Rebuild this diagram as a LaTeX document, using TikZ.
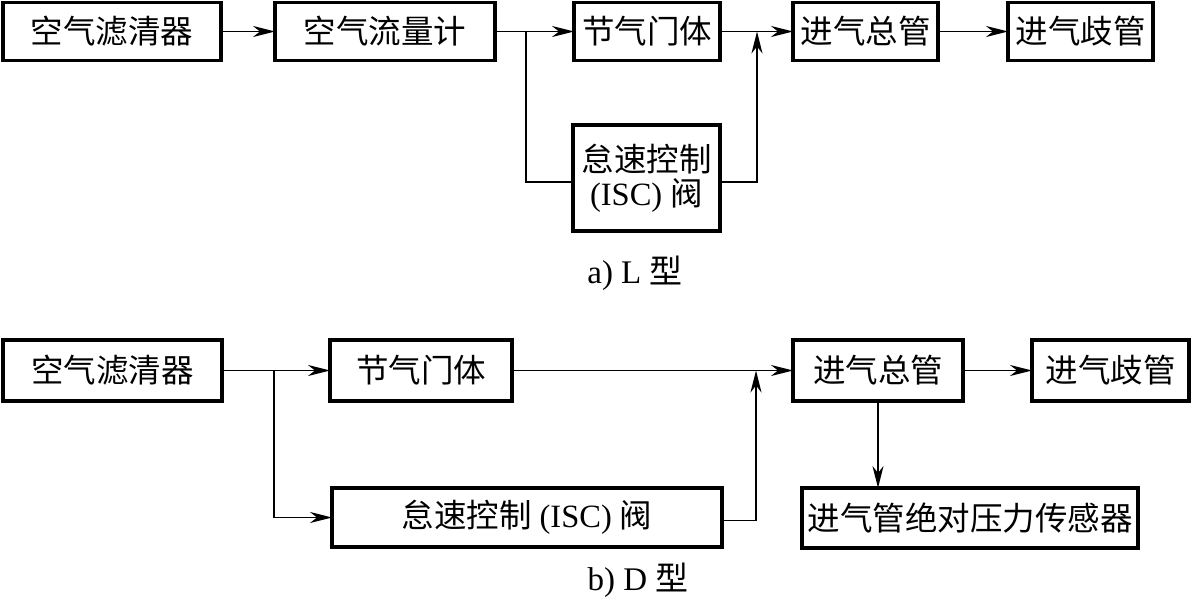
\documentclass[tikz,border=0pt]{standalone}
\usepackage{fontspec}
\setmainfont{Liberation Serif}
\newfontfamily\cjk{Noto Sans CJK SC}
\usetikzlibrary{arrows.meta}
\newcommand\zhtext[1]{{\cjk #1}}
\begin{document}
\begin{tikzpicture}[x=1pt,y=-1pt,
  blk/.style={draw, line width=3.4pt, rectangle, inner sep=0pt, outer sep=0pt,
    align=center, font=\fontsize{32.5}{34}\selectfont},
  conn/.style={line width=1.6pt},
  arr/.style={conn, -{Stealth[length=22pt,width=11pt,inset=7pt]}},
  captxt/.style={inner sep=0pt, font=\fontsize{33}{35}\selectfont}]
\useasboundingbox (0,0) rectangle (1192,599);
% ---------- a) L type ----------
\node[blk, minimum width=218pt, minimum height=58pt] (a1) at (112,31.5) {\zhtext{空气滤清器}};
\node[blk, minimum width=220pt, minimum height=58pt] (a2) at (385,31.5) {\zhtext{空气流量计}};
\node[blk, minimum width=146pt, minimum height=58pt] (a3) at (647,31.5) {\zhtext{节气门体}};
\node[blk, minimum width=145pt, minimum height=58pt] (a4) at (865.5,31.5) {\zhtext{进气总管}};
\node[blk, minimum width=145pt, minimum height=58pt] (a5) at (1080.5,31.5) {\zhtext{进气歧管}};
\node[blk, minimum width=147pt, minimum height=106pt] (aisc) at (646.5,178) {\zhtext{怠速控制}\\(ISC) \zhtext{阀}};
\coordinate (j1) at (526,31.5);
\coordinate (j2) at (757,31.5);
\draw[arr] (a1) -- (a2);
\draw[arr] (a2) -- (a3);
\draw[arr] (a3) -- (a4);
\draw[arr] (a4) -- (a5);
\draw[conn] (j1) |- ([yshift=-4pt]aisc.west);
\draw[arr] ([yshift=-4pt]aisc.east) -| (j2);
\node[captxt] (capa) at (635,273) {a) L \zhtext{型}};
% ---------- b) D type ----------
\node[blk, minimum width=219pt, minimum height=61pt] (b1) at (112.5,370.5) {\zhtext{空气滤清器}};
\node[blk, minimum width=182pt, minimum height=61pt] (b2) at (421,370.5) {\zhtext{节气门体}};
\node[blk, minimum width=170pt, minimum height=61pt] (b3) at (878,370.5) {\zhtext{进气总管}};
\node[blk, minimum width=157pt, minimum height=61pt] (b4) at (1110.5,370.5) {\zhtext{进气歧管}};
\node[blk, minimum width=390pt, minimum height=59pt] (bisc) at (527,517.5) {\zhtext{怠速控制} (ISC) \zhtext{阀}};
\node[blk, minimum width=336pt, minimum height=60pt] (bsen) at (970,518) {\zhtext{进气管绝对压力传感器}};
\coordinate (j3) at (274,370.5);
\coordinate (j4) at (756,370.5);
\draw[arr] (b1) -- (b2);
\draw[arr] (b2) -- (b3);
\draw[arr] (b3) -- (b4);
\draw[arr] (j3) |- (bisc.west);
\draw[arr] ([yshift=-3pt]bisc.east) -| (j4);
\draw[arr] (b3.south) -- (b3.south |- bsen.north);
\node[captxt] (capb) at (638,580) {b) D \zhtext{型}};
\end{tikzpicture}
\end{document}
